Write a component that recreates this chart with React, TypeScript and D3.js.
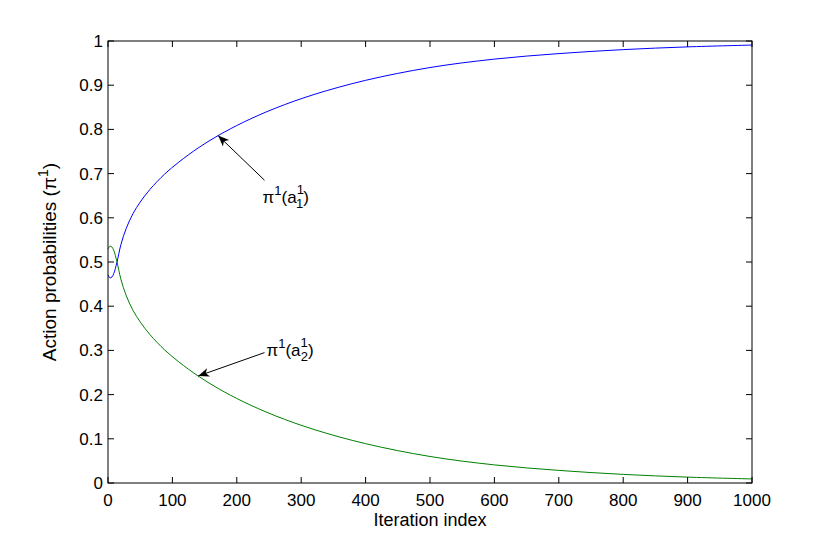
import * as d3 from "d3";

const iterations = [0, 3, 6, 9, 14, 20, 28, 39, 50, 65, 88, 110, 140, 171, 210, 260, 320, 400, 500, 600, 700, 800, 900, 1000];
// pi^1(a_1^1)
const blueValues = [0.471, 0.464, 0.466, 0.474, 0.5, 0.539, 0.575, 0.61, 0.6355, 0.664, 0.699, 0.726, 0.758, 0.786, 0.816, 0.848, 0.879, 0.911, 0.94, 0.959, 0.9715, 0.9805, 0.9867, 0.9908];
// pi^1(a_2^1)
const greenValues = [0.529, 0.536, 0.534, 0.526, 0.5, 0.461, 0.425, 0.39, 0.3645, 0.336, 0.301, 0.274, 0.242, 0.214, 0.184, 0.152, 0.121, 0.089, 0.06, 0.041, 0.0285, 0.0195, 0.0133, 0.0092];

const xTicks = [0, 100, 200, 300, 400, 500, 600, 700, 800, 900, 1000];
const yTicks = [0, 0.1, 0.2, 0.3, 0.4, 0.5, 0.6, 0.7, 0.8, 0.9, 1];
const yTickLabels = ["0", "0.1", "0.2", "0.3", "0.4", "0.5", "0.6", "0.7", "0.8", "0.9", "1"];

// annotations: [tail iter, tail value, tip iter, tip value]
const blueArrow = [243, 0.685, 171, 0.786];
const greenArrow = [243, 0.295, 140, 0.242];

const W = 830;
const H = 544;
const margin = { top: 41, right: 78, bottom: 61, left: 108 };
const FONT = "'Liberation Sans', Arial, Helvetica, sans-serif";

const Arrow = ({ x1, y1, x2, y2 }: { x1: number; y1: number; x2: number; y2: number }) => {
    const ang = (Math.atan2(y2 - y1, x2 - x1) * 180) / Math.PI;
    return (
        <g>
            <line x1={x1} y1={y1} x2={x2} y2={y2} stroke="#000" strokeWidth={1} />
            <path
                d="M0,0 L-11,-4.5 L-8,0 L-11,4.5 Z"
                fill="#000"
                transform={`translate(${x2},${y2}) rotate(${ang})`}
            />
        </g>
    );
};

const App = () => {
    const innerW = W - margin.left - margin.right;
    const innerH = H - margin.top - margin.bottom;

    const x = d3.scaleLinear().domain([0, 1000]).range([margin.left, margin.left + innerW]);
    const y = d3.scaleLinear().domain([0, 1]).range([margin.top + innerH, margin.top]);

    const line = d3
        .line<number>()
        .x((_, i) => x(iterations[i]))
        .y((d) => y(d))
        .curve(d3.curveCatmullRom.alpha(0.5));

    const left = x(0);
    const right = x(1000);
    const top = y(1);
    const bottom = y(0);
    const tickLen = 6;

    return (
        <svg
            width={W}
            height={H}
            style={{ position: "absolute", left: 0, top: 0, background: "#fff" }}
            fontFamily={FONT}
        >
            <rect x={0} y={0} width={W} height={H} fill="#fff" />

            {/* curves */}
            <path d={line(blueValues) || ""} fill="none" stroke="#0000ff" strokeWidth={1} />
            <path d={line(greenValues) || ""} fill="none" stroke="#008000" strokeWidth={1} />

            {/* box */}
            <rect x={left} y={top} width={right - left} height={bottom - top} fill="none" stroke="#000" strokeWidth={1} />

            {/* x ticks */}
            {xTicks.map((t) => (
                <g key={"x" + t}>
                    <line x1={x(t)} x2={x(t)} y1={bottom} y2={bottom - tickLen} stroke="#000" />
                    <line x1={x(t)} x2={x(t)} y1={top} y2={top + tickLen} stroke="#000" />
                    <text x={x(t)} y={bottom + 23} textAnchor="middle" fontSize={17}>
                        {t}
                    </text>
                </g>
            ))}

            {/* y ticks */}
            {yTicks.map((t, i) => (
                <g key={"y" + t}>
                    <line x1={left} x2={left + tickLen} y1={y(t)} y2={y(t)} stroke="#000" />
                    <line x1={right} x2={right - tickLen} y1={y(t)} y2={y(t)} stroke="#000" />
                    <text x={left - 5} y={y(t) + 6} textAnchor="end" fontSize={17}>
                        {yTickLabels[i]}
                    </text>
                </g>
            ))}

            {/* axis titles */}
            <text x={(left + right) / 2} y={bottom + 43} textAnchor="middle" fontSize={18}>
                Iteration index
            </text>
            <text
                transform={`translate(${56},${(top + bottom) / 2}) rotate(-90)`}
                textAnchor="middle"
                fontSize={19}
            >
                Action probabilities (π<tspan fontSize={14} dy={-8}>1</tspan>
                <tspan dy={8}>)</tspan>
            </text>

            {/* annotations */}
            <Arrow x1={x(blueArrow[0])} y1={y(blueArrow[1])} x2={x(blueArrow[2])} y2={y(blueArrow[3])} />
            <text x={x(240)} y={y(0.634)} fontSize={17}>
                π<tspan fontSize={13} dy={-8}>1</tspan>
                <tspan dy={8}>(a</tspan>
                <tspan fontSize={13} dy={-9}>1</tspan>
                <tspan fontSize={13} dx={-7} dy={14}>1</tspan>
                <tspan dy={-5}>)</tspan>
            </text>

            <Arrow x1={x(greenArrow[0])} y1={y(greenArrow[1])} x2={x(greenArrow[2])} y2={y(greenArrow[3])} />
            <text x={x(246)} y={y(0.288)} fontSize={17}>
                π<tspan fontSize={13} dy={-8}>1</tspan>
                <tspan dy={8}>(a</tspan>
                <tspan fontSize={13} dy={-9}>1</tspan>
                <tspan fontSize={13} dx={-7} dy={14}>2</tspan>
                <tspan dy={-5}>)</tspan>
            </text>
        </svg>
    );
};

export default App;
